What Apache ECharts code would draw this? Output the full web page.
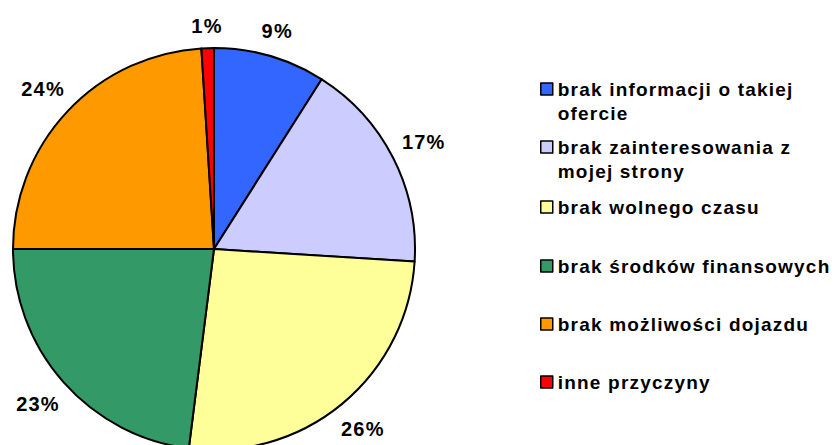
<!DOCTYPE html>
<html><head><meta charset="utf-8">
<script src="https://cdn.jsdelivr.net/npm/echarts@6/dist/echarts.min.js"></script>
<style>html,body{margin:0;padding:0;background:#fff}#c{width:836px;height:445px}
#c text{letter-spacing:1.2px}</style>
</head><body><div id="c"></div>
<script>
const categories = ['brak informacji o takiej ofercie', 'brak zainteresowania z mojej strony', 'brak wolnego czasu', 'brak środków finansowych', 'brak możliwości dojazdu', 'inne przyczyny'];
const legendLines = [['brak informacji o takiej', 'ofercie'], ['brak zainteresowania z', 'mojej strony'], ['brak wolnego czasu'], ['brak środków finansowych'], ['brak możliwości dojazdu'], ['inne przyczyny']];
const values = [9, 17, 26, 23, 24, 1];
const colors = ['#3366FF', '#CCCCFF', '#FFFF99', '#339966', '#FF9900', '#FF0000'];
const legendCenters = [89, 147, 207, 266, 324, 382];

const FONT = '"Liberation Sans", Arial, sans-serif';
const LH = 24;
const CX = 214, CY = 249, R = 201, RING_MID = 233, GAP = 12;
const chart = echarts.init(document.getElementById('c'), null, {renderer: 'svg'});
const data = categories.map((n, i) => ({name: n, value: values[i], itemStyle: {color: colors[i]}}));

chart.setOption({
  animation: false,
  legend: categories.map((name, i) => {
    const lines = legendLines[i].length;
    const h = LH * (2 * lines - 1);
    const txt = lines > 1 ? ' \n'.repeat(lines - 1) + legendLines[i].join('\n') : legendLines[i][0];
    return {
      orient: 'vertical', left: 540, top: legendCenters[i] - h / 2, padding: 0,
      itemWidth: 12, itemHeight: 12, itemGap: 0, selectedMode: false, icon: 'rect',
      data: [name],
      formatter: () => txt,
      itemStyle: {borderColor: '#000', borderWidth: 1.5},
      textStyle: {fontSize: 19, fontWeight: 'bold', fontFamily: FONT, color: '#000', lineHeight: LH}
    };
  }),
  series: [
    {
      type: 'pie', center: [CX, CY], radius: R, startAngle: 90, clockwise: true,
      data: data, avoidLabelOverlap: false,
      itemStyle: {borderColor: '#000', borderWidth: 2},
      label: {show: false}, labelLine: {show: false},
      emphasis: {disabled: true}
    },
    {
      type: 'pie', center: [CX, CY], radius: [RING_MID - 28, RING_MID + 28], startAngle: 90, clockwise: true,
      silent: true, legendHoverLink: false, avoidLabelOverlap: false,
      data: categories.map((n, i) => ({name: n, value: values[i]})),
      itemStyle: {color: 'rgba(0,0,0,0)', borderWidth: 0},
      label: {show: true, position: 'inside', formatter: '{c}%', fontSize: 20, fontWeight: 'bold',
        fontFamily: FONT, color: '#000', rotate: 0},
      labelLine: {show: false},
      labelLayout: function (p) {
        const r = p.labelRect;
        const mx = r.x + r.width / 2, my = r.y + r.height / 2;
        const vx = mx - CX, vy = my - CY;
        const d = Math.sqrt(vx * vx + vy * vy) || 1;
        const ux = vx / d, uy = vy / d;
        const s = Math.abs(ux) * r.width / 2 + Math.abs(uy) * r.height / 2;
        const t = R + GAP + s - d;
        return {dx: ux * t, dy: uy * t};
      },
      emphasis: {disabled: true}
    }
  ]
});
</script></body></html>
